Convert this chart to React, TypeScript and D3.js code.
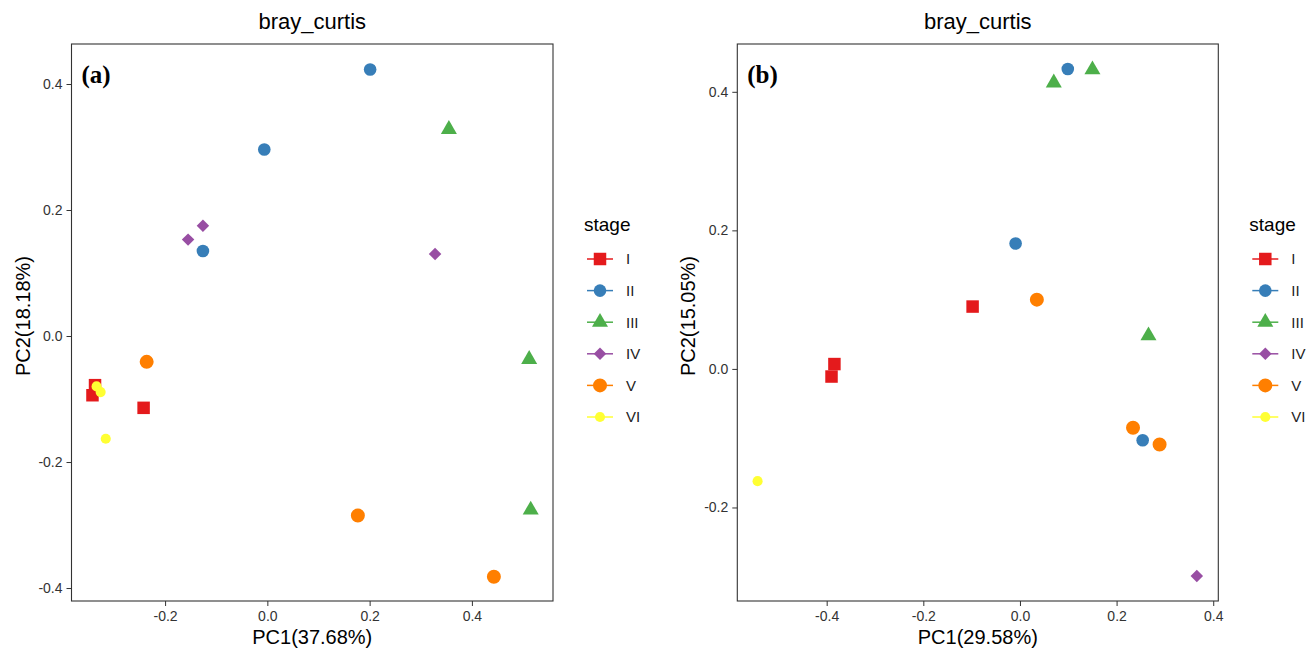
import React, { useEffect, useRef } from 'react';
import * as d3 from 'd3';

// stage levels and their Set1 colours
const stages = ["I", "II", "III", "IV", "V", "VI"];
const stageColors = ["#E41A1C", "#377EB8", "#4DAF4A", "#984EA3", "#FF7F00", "#FFFF33"];

// panel (a)
const stageA = ["I", "I", "I", "II", "II", "II", "III", "III", "III", "IV", "IV", "IV", "V", "V", "V", "VI", "VI", "VI"];
const pc1A = [-0.337, -0.342, -0.242, 0.201, -0.006, -0.126, 0.355, 0.512, 0.515, -0.155, -0.126, 0.328, -0.236, 0.177, 0.443, -0.334, -0.326, -0.316];
const pc2A = [-0.078, -0.094, -0.114, 0.423, 0.296, 0.135, 0.328, -0.037, -0.276, 0.153, 0.175, 0.130, -0.041, -0.285, -0.382, -0.080, -0.089, -0.163];
const ticksXA = [-0.2, 0.0, 0.2, 0.4];
const ticksYA = [-0.4, -0.2, 0.0, 0.2, 0.4];

// panel (b)
const stageB = ["I", "I", "I", "II", "II", "II", "III", "III", "III", "IV", "V", "V", "V", "VI"];
const pc1B = [-0.098, -0.384, -0.390, 0.099, -0.009, 0.254, 0.150, 0.070, 0.266, 0.366, 0.035, 0.234, 0.289, -0.543];
const pc2B = [0.090, 0.007, -0.011, 0.433, 0.181, -0.103, 0.432, 0.413, 0.048, -0.299, 0.100, -0.085, -0.109, -0.162];
const ticksXB = [-0.4, -0.2, 0.0, 0.2, 0.4];
const ticksYB = [-0.2, 0.0, 0.2, 0.4];

const sans = "'Liberation Sans', Arial, Helvetica, sans-serif";

// ggplot shapes 15..20 approximated with d3 symbols (area in px^2)
const shapeFor = (s: string) => {
  switch (s) {
    case "I": return d3.symbol().type(d3.symbolSquare).size(156)();
    case "II": return d3.symbol().type(d3.symbolCircle).size(125)();
    case "III": return d3.symbol().type(d3.symbolTriangle).size(111)();
    case "IV": return d3.symbol().type(d3.symbolSquare).size(78)();
    case "V": return d3.symbol().type(d3.symbolCircle).size(154)();
    default: return d3.symbol().type(d3.symbolCircle).size(80)();
  }
};

// plain hyphen minus like R prints
const fmt = (d: number) => d.toFixed(1);

function drawPanel(svg: any, opts: any) {
  const { left, right, top, bottom, xDomain, yDomain, xTicks, yTicks, stage, pc1, pc2, xLabel, yLabel, tag } = opts;
  const color = d3.scaleOrdinal(stages, stageColors);

  const x = d3.scaleLinear().domain(xDomain).range([left, right]);
  const y = d3.scaleLinear().domain(yDomain).range([bottom, top]);

  const g = svg.append("g");

  // title
  g.append("text")
    .attr("x", (left + right) / 2)
    .attr("y", 29)
    .attr("text-anchor", "middle")
    .attr("font-family", sans)
    .attr("font-size", 22)
    .text("bray_curtis");

  // axes
  g.append("g")
    .attr("transform", `translate(0,${bottom})`)
    .call(d3.axisBottom(x).tickValues(xTicks).tickFormat(fmt).tickSize(5).tickPadding(5))
    .call((a: any) => a.select(".domain").remove())
    .call((a: any) => a.selectAll("line").attr("stroke", "#333"))
    .call((a: any) => a.selectAll("text").attr("fill", "#333").attr("font-size", 14).attr("font-family", sans));

  g.append("g")
    .attr("transform", `translate(${left},0)`)
    .call(d3.axisLeft(y).tickValues(yTicks).tickFormat(fmt).tickSize(5).tickPadding(4))
    .call((a: any) => a.select(".domain").remove())
    .call((a: any) => a.selectAll("line").attr("stroke", "#333"))
    .call((a: any) => a.selectAll("text").attr("fill", "#333").attr("font-size", 14).attr("font-family", sans));

  // panel border
  g.append("rect")
    .attr("x", left)
    .attr("y", top)
    .attr("width", right - left)
    .attr("height", bottom - top)
    .attr("fill", "none")
    .attr("stroke", "#333")
    .attr("stroke-width", 1.1);

  // axis titles
  g.append("text")
    .attr("x", (left + right) / 2)
    .attr("y", 644)
    .attr("text-anchor", "middle")
    .attr("font-family", sans)
    .attr("font-size", 20)
    .text(xLabel);

  g.append("text")
    .attr("transform", `translate(${left - 42},${316}) rotate(-90)`)
    .attr("text-anchor", "middle")
    .attr("font-family", sans)
    .attr("font-size", 20)
    .text(yLabel);

  // panel tag
  g.append("text")
    .attr("x", left + 10)
    .attr("y", 83)
    .attr("font-family", "'Liberation Serif', 'Times New Roman', serif")
    .attr("font-weight", "bold")
    .attr("font-size", 25)
    .text(tag);

  // points, drawn in stage order
  const idx = d3.range(stage.length).sort((a, b) => stages.indexOf(stage[a]) - stages.indexOf(stage[b]));
  g.append("g")
    .selectAll("path")
    .data(idx)
    .join("path")
    .attr("transform", (i: number) => `translate(${x(pc1[i])},${y(pc2[i])})${stage[i] === "IV" ? " rotate(45)" : ""}`)
    .attr("fill", (i: number) => color(stage[i]))
    .attr("d", (i: number) => shapeFor(stage[i]));

  // legend
  const lg = g.append("g");
  lg.append("text")
    .attr("x", right + 31)
    .attr("y", 231)
    .attr("font-family", sans)
    .attr("font-size", 19)
    .text("stage");

  const ly = d3.scalePoint().domain(stages).range([259, 417]);
  const item = lg.selectAll("g.item")
    .data(stages)
    .join("g")
    .attr("class", "item")
    .attr("transform", (d: string) => `translate(${right + 47},${ly(d)})`);

  item.append("line")
    .attr("x1", -13)
    .attr("x2", 13)
    .attr("stroke", (d: string) => color(d))
    .attr("stroke-width", 1.5);

  item.append("path")
    .attr("transform", (d: string) => d === "IV" ? "rotate(45)" : null)
    .attr("fill", (d: string) => color(d))
    .attr("d", (d: string) => shapeFor(d));

  item.append("text")
    .attr("x", 26)
    .attr("dy", "0.36em")
    .attr("font-family", sans)
    .attr("font-size", 15)
    .attr("fill", "#222")
    .text((d: string) => d);
}

export default function App() {
  const ref = useRef<SVGSVGElement>(null);

  useEffect(() => {
    const svg = d3.select(ref.current);
    svg.selectAll("*").remove();

    drawPanel(svg, {
      left: 71.5, right: 553, top: 44, bottom: 601,
      xDomain: [-0.383, 0.5586], yDomain: [-0.4206, 0.4635],
      xTicks: ticksXA, yTicks: ticksYA,
      stage: stageA, pc1: pc1A, pc2: pc2A,
      xLabel: "PC1(37.68%)", yLabel: "PC2(18.18%)", tag: "(a)"
    });

    drawPanel(svg, {
      left: 737.3, right: 1218.3, top: 44, bottom: 601,
      xDomain: [-0.585, 0.4105], yDomain: [-0.335, 0.469],
      xTicks: ticksXB, yTicks: ticksYB,
      stage: stageB, pc1: pc1B, pc2: pc2B,
      xLabel: "PC1(29.58%)", yLabel: "PC2(15.05%)", tag: "(b)"
    });
  }, []);

  return (
    <svg ref={ref} width={1314} height={652}
      style={{ position: "absolute", left: 0, top: 0, background: "#fff" }} />
  );
}
